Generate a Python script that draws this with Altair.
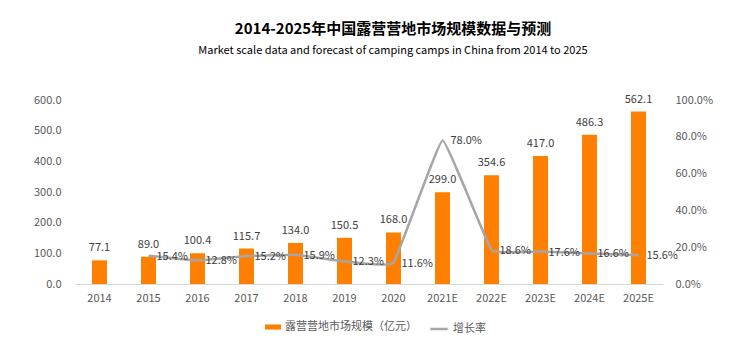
import altair as alt
import pandas as pd

years = ["2014", "2015", "2016", "2017", "2018", "2019", "2020",
         "2021E", "2022E", "2023E", "2024E", "2025E"]
market = [77.1, 89.0, 100.4, 115.7, 134.0, 150.5, 168.0,
          299.0, 354.6, 417.0, 486.3, 562.1]
growth = [None, 15.4, 12.8, 15.2, 15.9, 12.3, 11.6,
          78.0, 18.6, 17.6, 16.6, 15.6]

bar_name = "露营营地市场规模（亿元）"
line_name = "增长率"

df = pd.DataFrame({"year": years, "market": market,
                   "growth": [g / 100 if g is not None else None for g in growth]})
df["bar_s"] = bar_name
df["line_s"] = line_name

FONT = "Noto Sans CJK SC"
ORANGE = "#FF8000"
GRAY = "#A6A6A6"

x = alt.X("year:N", sort=years, title=None,
          scale=alt.Scale(paddingInner=0.69, paddingOuter=0.345),
          axis=alt.Axis(labelAngle=0, ticks=False, domainColor="#D9D9D9",
                        labelColor="#595959", labelFontSize=11, labelPadding=8))

base = alt.Chart(df)

yl = alt.Y("market:Q", title=None,
           scale=alt.Scale(domain=[0, 600]),
           axis=alt.Axis(values=[0, 100, 200, 300, 400, 500, 600], format=".1f",
                         grid=False, domain=False, ticks=False,
                         labelColor="#595959", labelFontSize=11, labelPadding=14))

bars = base.mark_bar(size=15).encode(
    x=x, y=yl,
    fill=alt.Fill("bar_s:N", scale=alt.Scale(domain=[bar_name], range=[ORANGE]),
                  legend=alt.Legend(title=None, orient="none", legendX=190, legendY=219,
                                    symbolType="M-1,-0.32H1V0.32H-1Z", symbolSize=256,
                                    symbolStrokeWidth=0,
                                    labelFontSize=11, labelColor="#595959", labelFont=FONT)),
)
bar_text = base.mark_text(baseline="bottom", dy=-7, fontSize=11, color="#404040", font=FONT).encode(
    x=x, y=yl, text=alt.Text("market:Q", format=".1f"))

left = alt.layer(bars, bar_text)

yr = alt.Y("growth:Q", title=None,
           scale=alt.Scale(domain=[0, 1]),
           axis=alt.Axis(orient="right", values=[0, 0.2, 0.4, 0.6, 0.8, 1.0], format=".1%",
                         grid=False, domain=False, ticks=False,
                         labelColor="#595959", labelFontSize=11, labelPadding=12))

line = base.transform_filter("datum.growth != null").mark_line(
    strokeWidth=2.5, interpolate="cardinal", tension=0.75).encode(
    x=x, y=yr,
    stroke=alt.Stroke("line_s:N", scale=alt.Scale(domain=[line_name], range=[GRAY]),
                      legend=alt.Legend(title=None, orient="none", legendX=354, legendY=219,
                                        symbolType="stroke", symbolSize=300,
                                        symbolStrokeWidth=2.5,
                                        labelFontSize=11, labelColor="#595959", labelFont=FONT)),
)
line_text = base.transform_filter("datum.growth != null").mark_text(
    align="left", baseline="middle", dx=8, dy=1, fontSize=11, color="#404040", font=FONT).encode(
    x=x, y=yr, text=alt.Text("growth:Q", format=".1%"))

right = alt.layer(line, line_text)

chart = alt.layer(left, right).resolve_scale(
    y="independent", fill="independent", stroke="independent"
).properties(
    width=588, height=184,
    padding={"left": 75, "top": 100, "right": 83, "bottom": 73},
    autosize=alt.AutoSizeParams(type="none"),
    title=alt.TitleParams(
        text="2014-2025年中国露营营地市场规模数据与预测",
        subtitle="Market scale data and forecast of camping camps in China from 2014 to 2025",
        font=FONT, fontSize=15, fontWeight="bold", color="#000000",
        subtitleFont=FONT, subtitleFontSize=11, subtitleColor="#000000",
        subtitlePadding=8, anchor="middle", dx=24, offset=38),
).configure_view(stroke=None).configure_axis(
    labelFont=FONT
)

chart.save("out.html", embed_options={"renderer": "svg", "actions": False})
